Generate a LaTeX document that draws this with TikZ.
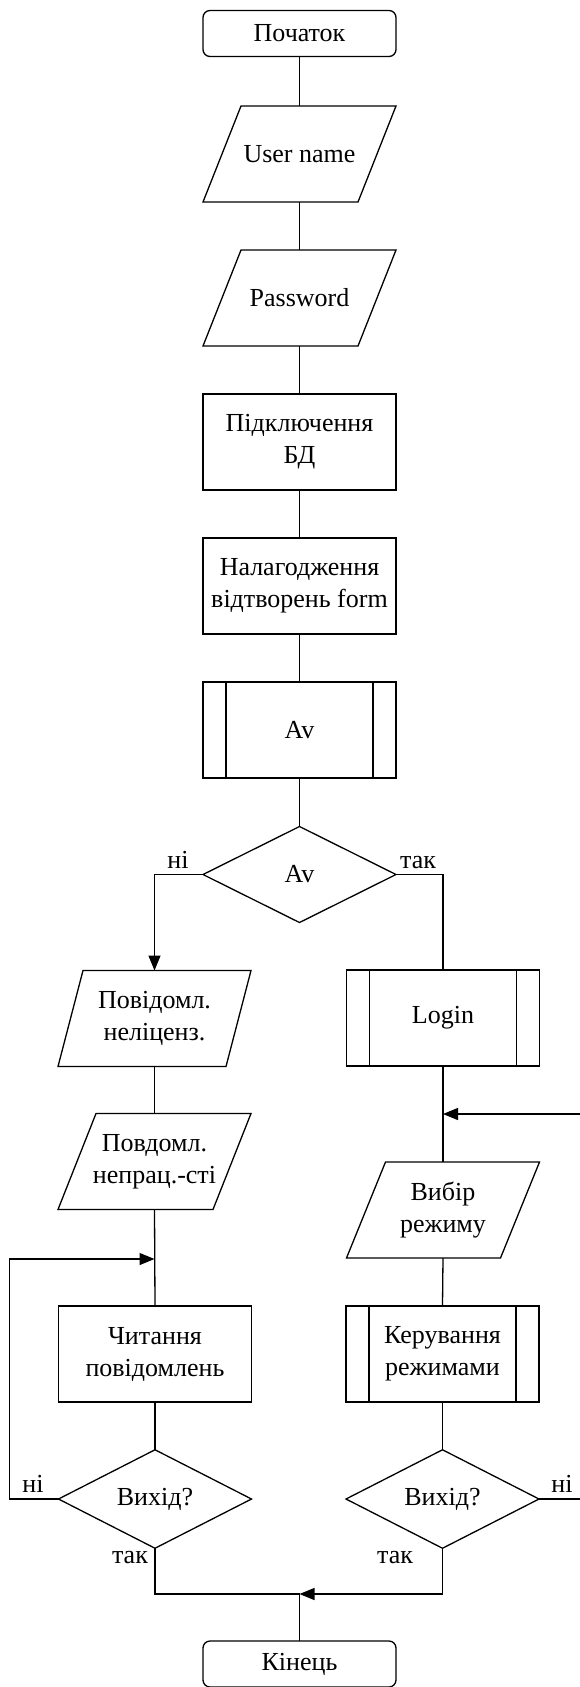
\documentclass[tikz,border=0pt]{standalone}
\usepackage{fontspec}
\setmainfont{Liberation Serif}
\usetikzlibrary{shapes.geometric,arrows.meta,calc}
\begin{document}
\begin{tikzpicture}[x=1pt,y=-1pt,
  line width=1.3pt,
  every node/.style={font=\fontsize{26}{32}\selectfont, inner sep=0pt, outer sep=0pt, align=center},
  box/.style={draw, rectangle, minimum width=193, minimum height=96},
  term/.style={draw, rectangle, rounded corners=7, minimum width=193, minimum height=46},
  io/.style={rectangle, minimum width=193, minimum height=96},
  decision/.style={draw, diamond, minimum width=193, minimum height=96},
  lbl/.style={anchor=base},
  flow/.style={-{Triangle[length=15pt,width=12pt]}},
]
\useasboundingbox (0,0) rectangle (579,1687);

% main column
\node[term] (start) at (299.5,33.5) {Початок};
\node[io]   (user)  at (299.5,154) {User name};
\node[io]   (pass)  at (299.5,298) {Password};
\node[box]  (db)    at (299.5,442) {Підключення\\БД};
\node[box]  (form)  at (299.5,586) {Налагодження\\відтворень form};
\node[box]  (avsub) at (299.5,730) {Av};
\node[decision] (avdec) at (299.5,874.5) {Av};

% left branch
\node[io]  (msg1)  at (154.5,1018.5) {Повідомл.\\неліценз.};
\node[io]  (msg2)  at (154.5,1161.5) {Повдомл.\\непрац.-сті};
\node[box] (read)  at (155,1354) {Читання\\повідомлень};
\node[decision] (exitL) at (155,1499) {Вихід?};

% right branch
\node[box] (login) at (443,1018) {Login};
\node[io]  (mode)  at (443,1210) {Вибір\\режиму};
\node[box] (ctrl)  at (442.5,1354) {Керування\\режимами};
\node[decision] (exitR) at (442.5,1499) {Вихід?};

% end
\node[term] (end) at (299.5,1664) {Кінець};

% parallelogram outlines of the input/output blocks
\foreach \n/\s in {user/38, pass/38, msg1/25, msg2/38, mode/39}
  \draw ($(\n.north west)+(\s,0)$) -- (\n.north east)
        -- ($(\n.south east)+(-\s,0)$) -- (\n.south west) -- cycle;

% side bars of the predefined-process blocks
\foreach \n in {avsub, login, ctrl} {
  \draw ($(\n.north west)+(23,0)$) -- ($(\n.south west)+(23,0)$);
  \draw ($(\n.north east)+(-23,0)$) -- ($(\n.south east)+(-23,0)$);
}

% junction points
\coordinate (jL) at (154.5,1259);
\coordinate (jR) at (443,1114);
\coordinate (jE) at (299.5,1594);
\coordinate (rr) at (583,1499);

% main column connectors
\draw (start.south) -- (user.north);
\draw (user.south) -- (pass.north);
\draw (pass.south) -- (db.north);
\draw (db.south) -- (form.north);
\draw (form.south) -- (avsub.north);
\draw (avsub.south) -- (avdec.north);

% decision branches
\draw[flow] (avdec.west) -| (msg1.north);
\draw (avdec.east) -| (login.north);

\draw (msg1.south) -- (msg2.north);
\draw (msg2.south) -- (read.north);
\draw (read.south) -- (exitL.north);
\draw[flow] (exitL.west) -- ++(-49,0) |- (jL);

\draw (login.south) -- (mode.north);
\draw (mode.south) -- (ctrl.north);
\draw (ctrl.south) -- (exitR.north);
\draw[flow] (exitR.east) -- (rr) |- (jR);

\draw (exitL.south) |- (jE);
\draw[flow] (exitR.south) |- (jE);
\draw (jE) -- (end.north);

% branch labels
\node[lbl] (l1) at (178,868) {ні};
\node[lbl] (l2) at (418,868) {так};
\node[lbl] (l3) at (33,1492) {ні};
\node[lbl] (l4) at (130,1563) {так};
\node[lbl] (l5) at (562,1492) {ні};
\node[lbl] (l6) at (395,1563) {так};
\end{tikzpicture}
\end{document}
